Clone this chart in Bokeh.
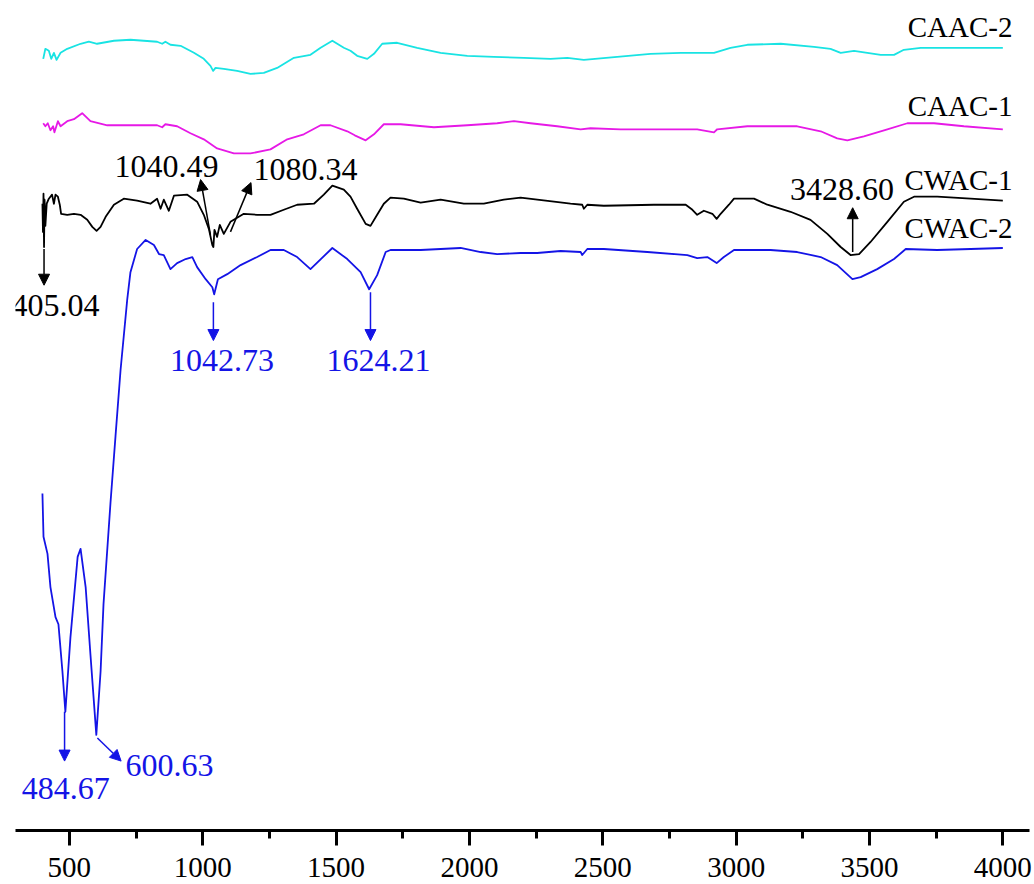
from bokeh.plotting import figure
from bokeh.models import Arrow, NormalHead, Label, SingleIntervalTicker
from bokeh.embed import file_html
from bokeh.resources import INLINE

# ---- data (wavenumber, cm-1 ; offset transmittance, a.u.) ----
caac2_x = [402, 410, 423, 432, 442, 452, 467, 492, 542, 573, 604, 667, 729, 829, 848, 860, 879, 917, 967,
           1004, 1029, 1039, 1048, 1079, 1129, 1179, 1229, 1279, 1342, 1404, 1442, 1486, 1529, 1554, 1579,
           1617, 1642, 1673, 1729, 1804, 1892, 1992, 2092, 2204, 2304, 2367, 2429, 2554, 2679, 2792,
           2917, 2979, 3042, 3167, 3292, 3354, 3392, 3442, 3492, 3542, 3592, 3629, 3692, 3792, 4000]
caac2_y = [772, 782, 780, 772, 778, 771, 778, 782, 787, 789, 787, 790, 791, 789, 787, 789, 786, 785, 778,
           772, 765, 760, 763, 762, 760, 757, 758, 763, 773, 776, 783, 790, 783, 780, 775,
           772, 777, 787, 788, 783, 778, 775, 774, 773, 772, 773, 771, 774, 777, 778,
           778, 783, 786, 787, 784, 782, 778, 780, 778, 776, 776, 781, 783, 783, 783]

caac1_x = [402, 410, 419, 429, 439, 444, 457, 467, 492, 517, 548, 579, 642, 729, 829, 848, 860, 904, 954,
           1004, 1054, 1117, 1179, 1254, 1317, 1379, 1442, 1479, 1542, 1570, 1611, 1642, 1679, 1742, 1867,
           1992, 2104, 2167, 2229, 2329, 2417, 2454, 2567, 2792, 2854, 2917, 2929, 3042, 3229, 3317,
           3379, 3417, 3479, 3567, 3642, 3742, 3854, 4000]
caac1_y = [708, 705, 708, 701, 705, 699, 710, 705, 710, 712, 718, 710, 706, 706, 706, 704, 707, 705, 698,
           692, 683, 678, 678, 682, 692, 697, 706, 706, 700, 696, 691, 697, 707, 707, 704,
           706, 708, 710, 708, 705, 702, 703, 702, 702, 702, 699, 702, 705, 705, 700,
           693, 691, 695, 702, 708, 708, 705, 702]

cwac1_x = [399, 401, 403, 405, 407, 410, 415, 423, 435, 442, 448, 457, 464, 469, 492, 517, 542, 567, 586,
           602, 617, 636, 667, 704, 754, 804, 829, 842, 854, 873, 892, 942, 979, 1004, 1023, 1036, 1040,
           1044, 1054, 1064, 1079, 1104, 1154, 1204, 1254, 1304, 1354, 1417, 1454, 1486, 1529, 1554, 1579,
           1611, 1629, 1654, 1679, 1704, 1754, 1817, 1892, 1979, 2054, 2129, 2192, 2317, 2379, 2423, 2429,
           2442, 2504, 2692, 2811, 2836, 2854, 2879, 2911, 2927, 2942, 2973, 2992, 3067, 3117, 3204, 3279,
           3342, 3392, 3429, 3461, 3504, 3567, 3629, 3667, 3754, 3879, 4000]
cwac1_y = [628, 600, 638, 585, 632, 606, 628, 633, 637, 628, 637, 635, 627, 618, 617, 618, 617, 612, 605,
           601, 605, 615, 627, 633, 631, 628, 633, 623, 632, 621, 636, 637, 630, 617, 603, 587, 585,
           602, 595, 607, 598, 610, 618, 617, 617, 622, 627, 628, 637, 646, 642, 635, 623,
           608, 606, 617, 628, 634, 633, 629, 632, 628, 628, 632, 634, 630, 628, 627, 623,
           627, 626, 627, 627, 622, 617, 621, 618, 613, 618, 627, 633, 633, 627, 620, 612,
           598, 585, 577, 578, 590, 610, 630, 635, 635, 633, 631]

cwac2_x = [399, 403, 418, 429, 448, 459, 474, 485, 504, 531, 542, 561, 579, 601, 617, 628, 654, 673, 692,
           717, 729, 754, 786, 817, 836, 854, 879, 904, 936, 961, 979, 1011, 1036, 1043, 1057, 1092, 1142,
           1204, 1254, 1304, 1354, 1404, 1486, 1542, 1592, 1624, 1654, 1686, 1704, 1817, 1967, 2042, 2104,
           2192, 2254, 2342, 2417, 2423, 2442, 2504, 2667, 2817, 2854, 2892, 2927, 2954, 2992, 3129, 3229,
           3317, 3379, 3436, 3467, 3529, 3592, 3636, 3754, 3879, 4000]
cwac2_y = [340, 297, 280, 247, 217, 210, 163, 123, 197, 277, 285, 247, 180, 100, 163, 230, 330, 397, 463,
           533, 560, 583, 592, 587, 578, 577, 563, 569, 573, 575, 565, 553, 545, 538, 553, 558, 567,
           575, 582, 582, 575, 563, 584, 573, 560, 543, 557, 580, 582, 582, 584, 580, 578,
           579, 579, 581, 580, 577, 583, 583, 580, 577, 574, 575, 569, 575, 582, 582, 580,
           575, 567, 553, 555, 563, 573, 583, 582, 583, 584]

series_names = ["CAAC-2", "CAAC-1", "CWAC-1", "CWAC-2"]
series_colors = ["#19E3E3", "#E619E6", "#000000", "#1414E6"]

x_ticks_interval = 500

FONT = "Liberation Serif"

p = figure(width=1034, height=884, x_range=(298, 4100), y_range=(5, 830),
           output_backend="svg", toolbar_location=None, y_axis_location=None,
           min_border_left=15, min_border_right=5, min_border_top=0, min_border_bottom=54)
p.background_fill_color = "white"
p.border_fill_color = "white"
p.outline_line_color = None
p.grid.visible = False

xs = [caac2_x, caac1_x, cwac1_x, cwac2_x]
ys = [caac2_y, caac1_y, cwac1_y, cwac2_y]
for x, y, c in zip(xs, ys, series_colors):
    p.line(x, y, line_color=c, line_width=1.8, line_join="round")

ax = p.xaxis[0]
ax.ticker = SingleIntervalTicker(interval=x_ticks_interval, num_minor_ticks=2)
ax.axis_line_width = 3
ax.major_tick_line_width = 3
ax.minor_tick_line_width = 3
ax.major_tick_in = 0
ax.major_tick_out = 15
ax.minor_tick_in = 0
ax.minor_tick_out = 8
ax.major_label_text_font = FONT
ax.major_label_text_font_size = "29px"
ax.major_label_text_color = "black"
ax.major_label_standoff = 12

# series labels
label_pos = [(4036, 804), (4036, 725), (4036, 652), (4036, 604)]
for name, (lx, ly) in zip(series_names, label_pos):
    p.add_layout(Label(x=lx, y=ly, text=name, text_align="right", text_baseline="alphabetic",
                       text_font=FONT, text_font_size="29px", text_color="black"))

# peak annotations: (text, color, arrow start, arrow end, text pos, align)
peaks = [
    ("405.04", "black", (405, 583), (405, 547), (448, 527), "center"),
    ("1040.49", "black", (1029, 597), (992, 652), (864, 665), "center"),
    ("1080.34", "black", (1104, 600), (1181, 649), (1385, 662), "center"),
    ("3428.60", "black", (3437, 580), (3437, 624), (3397, 642), "center"),
    ("1042.73", "#1414E6", (1040, 530), (1040, 492), (1072, 472), "center"),
    ("1624.21", "#1414E6", (1629, 540), (1629, 492), (1659, 472), "center"),
    ("484.67", "#1414E6", (482, 123), (482, 74), (486, 47), "center"),
    ("600.63", "#1414E6", (605, 97), (694, 74), (710, 70), "left"),
]
for txt, c, (x0, y0), (x1, y1), (tx, ty), al in peaks:
    p.add_layout(Arrow(end=NormalHead(size=11, fill_color=c, line_color=c, line_width=1),
                       x_start=x0, y_start=y0, x_end=x1, y_end=y1,
                       line_color=c, line_width=1.5))
    p.add_layout(Label(x=tx, y=ty, text=txt, text_align=al, text_baseline="alphabetic",
                       text_font=FONT, text_font_size="32px", text_color=c))

open("out.html", "w").write(file_html(p, INLINE))
